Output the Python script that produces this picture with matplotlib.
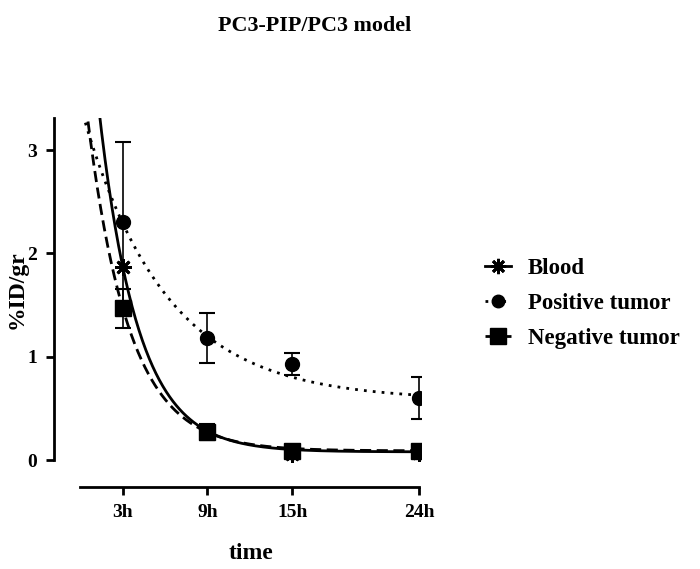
import numpy as np
import matplotlib.pyplot as plt
from matplotlib.lines import Line2D

plt.rcParams['font.family'] = ['Liberation Serif', 'DejaVu Serif']
plt.rcParams['font.weight'] = 'bold'

# data
time_h = [3, 9, 15, 24]
tick_labels = ['3h', '9h', '15h', '24h']

blood = [1.87, 0.28, 0.06, 0.07]
blood_err = [0.0, 0.0, 0.02, 0.0]

positive = [2.30, 1.18, 0.93, 0.60]
positive_err = [0.78, 0.24, 0.11, 0.20]

negative = [1.47, 0.27, 0.09, 0.09]
negative_err = [0.19, 0.08, 0.02, 0.02]

# one phase decay fits: plateau, span, k
blood_fit = (0.08, 1.79 * np.exp(0.365 * 3), 0.365)
positive_fit = (0.58, 2.85, 0.17)
negative_fit = (0.09, 1.38 * np.exp(0.34 * 3), 0.34)

DOTTED = (0, (1, 2.2))
DASHED = (0, (4, 2))


def decay(t, p):
    plateau, span, k = p
    return plateau + span * np.exp(-k * t)


fig = plt.figure(figsize=(7, 5.69), dpi=100)
ax = fig.add_axes([0.0771, 0.1441, 0.524, 0.6485])

YTOP = 3.31
t = np.linspace(0, 24, 400)
for p, ls in [(blood_fit, '-'), (positive_fit, DOTTED), (negative_fit, DASHED)]:
    ax.plot(t, decay(t, p), color='black', lw=2, ls=ls, zorder=2)

ax.errorbar(time_h, positive, yerr=positive_err, fmt='o', color='black', ms=10,
            capsize=6, elinewidth=1.2, capthick=1.5, zorder=3)
ax.errorbar(time_h, negative, yerr=negative_err, fmt='s', color='black', ms=12,
            capsize=6, elinewidth=1.2, capthick=1.5, zorder=3)
ax.errorbar(time_h, blood, yerr=blood_err, fmt='none', color='black',
            capsize=0, elinewidth=1.2, zorder=3)
ax.plot(time_h, blood, ls='none', marker=(8, 2, 0), color='black', ms=12,
        mew=2, zorder=4)

ax.set_xlim(-1.87, 24.1)
ax.set_ylim(-0.26, YTOP)
ax.set_xticks(time_h)
ax.set_xticklabels(tick_labels)
ax.set_yticks([0, 1, 2, 3])

for s in ['top', 'right']:
    ax.spines[s].set_visible(False)
ax.spines['left'].set_bounds(0, YTOP)
ax.spines['bottom'].set_bounds(0, 24)
ax.spines['left'].set_linewidth(2)
ax.spines['bottom'].set_linewidth(2)
ax.tick_params(width=2, length=6, labelsize=14, pad=6)

ax.set_xlabel('time', fontsize=17, fontweight='bold')
ax.set_ylabel('%ID/gr', fontsize=17, fontweight='bold')
ax.xaxis.set_label_coords(0.537, -0.152)
ax.yaxis.set_label_coords(-0.071, 0.534)

fig.text(0.449, 0.955, 'PC3-PIP/PC3 model', ha='center', va='center',
         fontsize=15.8, fontweight='bold')

handles = [
    Line2D([], [], color='black', lw=2, ls='-', marker=(8, 2, 0), ms=11, mew=2),
    Line2D([], [], color='black', lw=2, ls=DOTTED, marker='o', ms=9),
    Line2D([], [], color='black', lw=2, ls=DASHED, marker='s', ms=11),
]
fig.legend(handles, ['Blood', 'Positive tumor', 'Negative tumor'],
           loc='center left', bbox_to_anchor=(0.664, 0.467), frameon=False,
           fontsize=16.5, handlelength=1.1, labelspacing=0.6, handletextpad=0.75)

fig.savefig('out.png', dpi=100)
